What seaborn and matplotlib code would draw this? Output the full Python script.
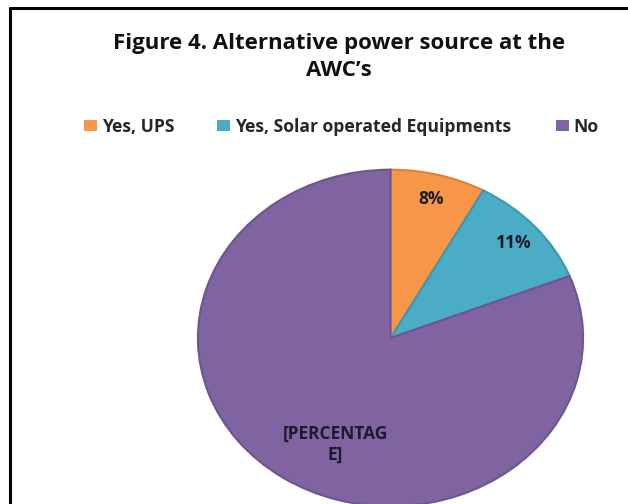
import matplotlib
matplotlib.use("Agg")
import matplotlib.pyplot as plt
from matplotlib.lines import Line2D
import seaborn as sns

# Survey shares of alternative power sources
categories = ["Yes, UPS", "Yes, Solar operated Equipments", "No"]
shares = [8, 11, 81]
no_label = "[PERCENTAG\nE]"

sns.set_theme(style="white")
plt.rcParams["font.family"] = ["Open Sans", "DejaVu Sans"]

colors = ["#F79646", "#4BACC6", "#8064A2"]
edges = ["#D98238", "#3D98B0", "#6E5590"]

W, H = 628, 504
fig = plt.figure(figsize=(W / 100, H / 100), dpi=100)
fig.patch.set_facecolor("white")

# pie occupies a wide box, so the pie is drawn slightly stretched horizontally;
# its lower edge runs just past the bottom of the figure
px_l, px_r, px_t, px_b = 196, 585, 168, 508
ax = fig.add_axes([px_l / W, 1 - px_b / H, (px_r - px_l) / W, (px_b - px_t) / H])


def fmt(p):
    if p > 50:
        return no_label
    return f"{p:.0f}%"


wedges, texts, autotexts = ax.pie(
    shares,
    colors=colors,
    startangle=90,
    counterclock=False,
    autopct=fmt,
    pctdistance=0.85,
    wedgeprops=dict(linewidth=1.5),
    textprops=dict(fontsize=12.5, fontweight="bold", color="#1B1B2B"),
)
for w, ec in zip(wedges, edges):
    w.set_edgecolor(ec)
autotexts[2].set_position((-0.285, -0.63))

ax.set_aspect("auto")
ax.set_xlim(-1.01, 1.01)
ax.set_ylim(-1.01, 1.01)
ax.axis("off")

# title
fig.text(339 / W, 1 - 43 / H, "Figure 4. Alternative power source at the",
         ha="center", va="center", fontsize=16, fontweight="bold", color="#111111")
fig.text(339 / W, 1 - 70 / H, "AWC\u2019s",
         ha="center", va="center", fontsize=16, fontweight="bold", color="#111111")

# legend entries, one per category
leg_x = [84, 217, 556]
for wdg, name, x in zip(wedges, categories, leg_x):
    lg = fig.legend(
        [wdg], [name],
        loc="center left",
        bbox_to_anchor=(x / W, 1 - 127 / H),
        frameon=False,
        prop=dict(size=12.6, weight="bold"),
        handlelength=0.72,
        handleheight=0.6,
        handletextpad=0.3,
        borderpad=0,
        borderaxespad=0,
    )
    for h in lg.legend_handles:
        h.set_edgecolor("none")

# frame lines along the top and left
fig.add_artist(Line2D([10 / W, 1], [1 - 8 / H, 1 - 8 / H], color="black", lw=2.2,
                      transform=fig.transFigure))
fig.add_artist(Line2D([10 / W, 10 / W], [0, 1 - 8 / H], color="black", lw=2.2,
                      transform=fig.transFigure))

fig.savefig("out.png", dpi=100)
